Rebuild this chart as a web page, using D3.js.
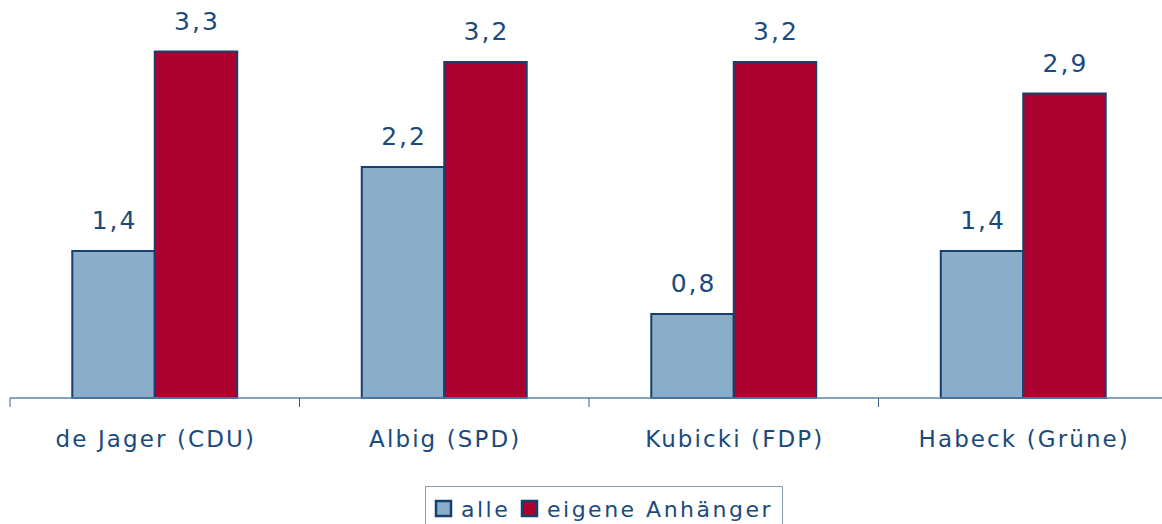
<!DOCTYPE html>
<html lang="de">
<head>
    <meta charset="UTF-8">
    <title>Kandidaten</title>
    <script src="https://d3js.org/d3.v7.min.js"></script>
</head>
<body>
    <div id="chart"></div>

    <script>
        // Data
        const categories = ['de Jager (CDU)', 'Albig (SPD)', 'Kubicki (FDP)', 'Habeck (Grüne)'];
        const seriesNames = ['alle', 'eigene Anhänger'];
        const alle = [1.4, 2.2, 0.8, 1.4];
        const eigene = [3.3, 3.2, 3.2, 2.9];
        const colors = ['#8aadc9', '#ab002f'];

        const width = 1162;
        const height = 524;
        const baseY = 398;
        const textColor = '#1b4a7c';
        const edgeColor = '#16406e';
        const font = 'DejaVu Sans, Verdana, sans-serif';

        const rows = categories.map((c, i) => ({ cat: c, values: [alle[i], eigene[i]] }));

        const svg = d3.select('#chart')
            .append('svg')
            .attr('width', width)
            .attr('height', height);

        const x0 = d3.scaleBand()
            .domain(categories)
            .range([10, 1168]);

        const x1 = d3.scaleBand()
            .domain(seriesNames)
            .range([0, x0.bandwidth()])
            .paddingOuter(0.755);

        const y = d3.scaleLinear()
            .domain([0, 3.3])
            .range([baseY, 51.5]);

        // Bars
        const groups = svg.selectAll('.grp')
            .data(rows)
            .enter()
            .append('g')
            .attr('class', 'grp')
            .attr('transform', d => `translate(${x0(d.cat)},0)`);

        groups.selectAll('rect')
            .data(d => d.values.map((v, i) => ({ name: seriesNames[i], value: v, i })))
            .enter()
            .append('rect')
            .attr('x', d => x1(d.name))
            .attr('y', d => y(d.value))
            .attr('width', x1.bandwidth())
            .attr('height', d => baseY - y(d.value))
            .attr('fill', d => colors[d.i])
            .attr('stroke', edgeColor)
            .attr('stroke-width', 2);

        // Value labels
        groups.selectAll('.val')
            .data(d => d.values.map((v, i) => ({ name: seriesNames[i], value: v })))
            .enter()
            .append('text')
            .attr('class', 'val')
            .attr('x', d => x1(d.name) + x1.bandwidth() / 2 + 1)
            .attr('y', d => y(d.value) - 22)
            .attr('text-anchor', 'middle')
            .attr('font-family', font)
            .attr('font-size', 25)
            .attr('letter-spacing', 2)
            .attr('fill', textColor)
            .text(d => d3.format('.1f')(d.value).replace('.', ','));

        // Axis
        const axis = svg.append('g');
        axis.append('line')
            .attr('x1', 10).attr('x2', 1168)
            .attr('y1', baseY).attr('y2', baseY)
            .attr('stroke', '#5b84ad')
            .attr('stroke-width', 1.5);

        const tickPos = categories.map(c => x0(c)).concat([x0.range()[1]]);
        axis.selectAll('.tick')
            .data(tickPos)
            .enter()
            .append('line')
            .attr('x1', d => d).attr('x2', d => d)
            .attr('y1', baseY).attr('y2', baseY + 9)
            .attr('stroke', '#3c5f85')
            .attr('stroke-width', 1);

        axis.selectAll('.cat')
            .data(categories)
            .enter()
            .append('text')
            .attr('x', d => x0(d) + x0.bandwidth() / 2 + 1)
            .attr('y', 447)
            .attr('text-anchor', 'middle')
            .attr('font-family', font)
            .attr('font-size', 23)
            .attr('letter-spacing', 2.1)
            .attr('fill', textColor)
            .text(d => d);

        // Legend
        const legend = svg.append('g');
        legend.append('rect')
            .attr('x', 425.5).attr('y', 486.5)
            .attr('width', 357).attr('height', 50)
            .attr('fill', 'none')
            .attr('stroke', '#8d9fb5')
            .attr('stroke-width', 1);

        const legendX = [435, 521];
        const items = legend.selectAll('.item')
            .data(seriesNames)
            .enter()
            .append('g')
            .attr('transform', (d, i) => `translate(${legendX[i]},0)`);

        items.append('rect')
            .attr('x', 1).attr('y', 501)
            .attr('width', 15).attr('height', 15)
            .attr('fill', (d, i) => colors[i])
            .attr('stroke', edgeColor)
            .attr('stroke-width', 2.5);

        items.append('text')
            .attr('x', 26).attr('y', 517)
            .attr('font-family', font)
            .attr('font-size', 22)
            .attr('letter-spacing', 2.5)
            .attr('fill', textColor)
            .text(d => d);
    </script>
</body>
<style>
    body {
        margin: 0;
        background: #ffffff;
    }
</style>
</html>
